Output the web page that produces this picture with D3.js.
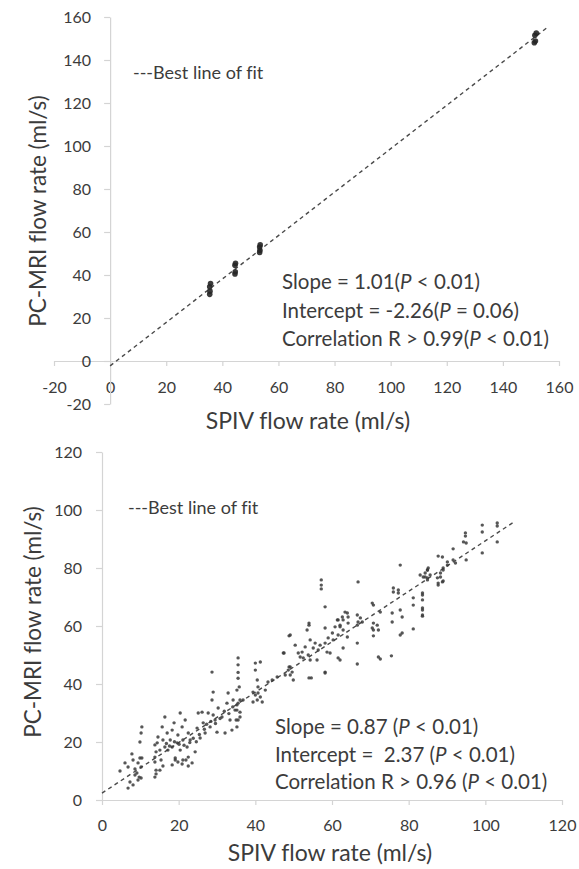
<!DOCTYPE html>
<html><head><meta charset="utf-8">
<script src="https://cdn.jsdelivr.net/npm/d3@7"></script>
<style>
body{margin:0;background:#fff}
svg{display:block}
text{font-family:Lato,"Open Sans",sans-serif;fill:#3c3c3c;font-variant-ligatures:none;font-feature-settings:"liga" 0}
</style>
</head><body><svg id="c" width="579" height="869"></svg>
<script>
// ---------- DATA ----------
const topXTicks = [-20,0,20,40,60,80,100,120,140,160];
const topYTicks = [-20,0,20,40,60,80,100,120,140,160];
const topPoints = [
  [35.5,31],[35.6,32.5],[35.5,34.5],[35.8,36],
  [44.5,40.5],[44.6,41.5],[44.5,44.5],[44.7,45.5],
  [53.3,50.5],[53.4,51.5],[53.3,53],[53.5,54],
  [151.2,148],[151.6,148.8],[151.4,151.5],[151.9,152.5]
];
const topFit = {slope:1.01, intercept:-2.26, from:0, to:156};
const topStats = [
  [["Slope = 1.01(",0],["P",1],[" < 0.01)",0]],
  [["Intercept = -2.26(",0],["P",1],[" = 0.06)",0]],
  [["Correlation R > 0.99(",0],["P",1],[" < 0.01)",0]]
];

const botXTicks = [0,20,40,60,80,100,120];
const botYTicks = [0,20,40,60,80,100,120];
const botPoints = [
  [4.7,10],[6.8,11.4],[7.8,15.9],[8.1,13.8],[8.6,10.7],[9.1,9.3],[9.4,12.8],[9.9,14.5],[10.2,11.4],
  [9.7,7.9],[9.4,6.9],[6.8,4.1],[7.3,6.2],[8.1,5.2],[10.2,7.6],[10.4,25.2],[10.2,23.1],[9.9,20],
  [6.0,12.8],[8.6,8.6],[10.4,14.5],
  [13.8,14.8],[14.1,10.3],[13.8,7.9],[14.4,19.7],[14.6,21.7],[15.1,17.2],[15.4,13.8],[15.7,25.2],
  [15.9,20.7],[16.4,28.6],[16.4,18.3],[17,23.1],[17.2,17.2],[17.8,20.7],[18.3,24.1],[18.3,18.3],
  [19.1,13.8],[18.8,26.6],[19.6,19.7],[19.8,22.4],[20.4,30],[20.4,17.2],[20.9,25.2],[21.1,20.7],
  [21.1,13.8],[21.7,27.6],[22.2,18.3],[22.5,23.1],[22.5,14.8],[23,20.7],[23.5,12.8],[24.3,16.6],
  [24.8,24.8],[25.1,30],[25.6,21.4],[26.1,30.3],[26.4,26.6],[26.9,23.1],[27.7,30],[28.2,25.2],
  [28.7,34.5],[29,37.2],[29,29.3],[29.5,27.6],[30,23.4],[30.3,31.7],[31.3,28.6],[32.1,23.1],
  [32.6,33.4],[32.9,36.9],[33.4,27.6],[33.9,24.1],[34.2,34.5],[34.7,31],[35.2,37.9],[35.5,33.4],
  [36,28.6],[28.7,44.1],
  [19.1,14.5],[19.8,13.1],[20.9,12.4],[21.9,13.8],[22.5,11.7],[18.3,12.1],
  [13.8,19],[14.1,16.6],[13.8,13.1],[14.1,9],[15.1,10.3],[15.9,11.7],
  [16.8,19.5],[17.6,18.6],[18.9,20.1],[20.1,19.2],[21.4,18.9],[22.9,19.8],[23.8,21.3],[24.6,20.1],
  [25.4,22.6],[26.7,24.4],[27.3,26.1],[28.4,27.1],[29.6,26.4],[30.8,28.1],[31.9,30.6],[33.1,29.8],
  [34.1,32.1],[35.2,32.8],[36,30.3],[35,27.6],[36.8,34.5],[36,34.5],[35.2,31],[35.5,27.6],[35.2,25.2],
  [35.5,49],[35.5,46.6],[35.5,44],[35.5,42],[35.8,39],
  [40,47.2],[41.3,47.6],[40,44.8],[40.5,41.4],[40.7,39],[39.4,37.2],[40,36.2],[40.7,36.9],[41.3,35.5],
  [40.5,34.5],[41.8,33.8],[39.4,33.8],[42.6,37.9],[43.3,40.7],[44.4,41.4],[45.7,42.4],[47.3,50.7],
  [47.8,43.1],[48.6,44.8],[49.1,45.9],[49.1,43.1],[49.6,44.1],[49.9,41.4],[49.1,56.9],[50.4,53.4],
  [51.2,50.7],[51.7,49.3],[52.2,51],[52.5,49],[53,52.8],[53.5,58.6],[53.8,50],[54,60.3],[54.3,48.3],
  [54.3,55.2],[54.6,42.1],[55.1,52.4],[55.6,54.1],[56.1,48.3],[56.4,51.7],[56.9,53.4],[58.2,54.1],
  [58.2,59.3],[58.7,51],[59,55.9],[59.5,50.7],[60.1,57.6],[58.2,44.1],[60.3,55.2],[60.8,59.7],
  [61.4,62.1],[61.6,56.9],[61.6,49],[62.1,60.3],[62.7,63.1],[62.9,58.6],[63.4,64.8],[64,56.2],[64.2,61],
  [47.5,50.7],[48.8,56.6],[48.8,45.9],[54,61],[58.2,43.8],[54,42.1],[58.2,66.6],[61.6,62.1],
  [62.1,48.3],[62.9,52.4],
  [57.2,75.9],[57.2,74.1],[57.2,72.8],
  [77.8,81],[66.8,75.2],[76,73.1],[76,71.7],[77.3,72.4],[77.3,71.4],[64,64.5],[64.2,63.1],[66.6,63.8],
  [67.4,62.8],[66.8,61.4],[67.9,61.4],[66.6,60.3],[70.5,67.9],[70.8,67.2],[72.6,64.8],[70.8,61],
  [70.5,59.3],[70.8,58.6],[71.8,60.3],[72.1,58.6],[70.8,56.6],[75.7,64.5],[75.7,61.4],[77.8,65.5],
  [78.3,63.1],[78.3,57.6],[77.8,56.9],[81.2,69.7],[81.2,67.2],[83.6,71.4],[83.6,69],[83.6,65.5],
  [83.6,63.4],[81.2,59],[66.6,54.1],[66.6,46.9],[72.1,49.3],[72.6,48.6],[75.5,49.7],[83,77.6],
  [83.8,76.9],[84.3,78.3],[84.9,79.3],[85.1,80],[84.9,76.6],[85.6,77.6],[87.5,76.6],[87.7,74.8],
  [88.3,78.3],[89,80],[90.1,81],[88.8,75.2],[62.9,62.1],[62.1,59.7],
  [99.2,94.8],[103.1,95.5],[103.1,94.5],[99.2,92.4],[94.8,92.1],[94.8,91],[94.3,89],[95,88.6],
  [103.1,89],[99.2,85.2],[91.6,86.6],[87.7,84.1],[88.8,83.8],[91.6,82.8],[92.2,81.7],[95,82.8],
  [90.1,82.1],[89,79.3],[88.3,76.9],[87.7,74.1],[89,75.5],[84.9,79.3],[84.3,76.9],[84.9,75.9],
  [83.6,70.7],[83.6,66.2],[83.6,63.8]
];
const botFit = {slope:0.87, intercept:2.37, from:0, to:107.5};
const botStats = [
  [["Slope = 0.87 (",0],["P",1],[" < 0.01)",0]],
  [["Intercept =  2.37 (",0],["P",1],[" < 0.01)",0]],
  [["Correlation R > 0.96 (",0],["P",1],[" < 0.01)",0]]
];
const legendLabel = "---Best line of fit";
const xTitle = "SPIV flow rate (ml/s)";
const yTitle = "PC-MRI flow rate (ml/s)";

// ---------- DRAW ----------
const svg = d3.select("#c");
const axisCol = "#d4d4d4";
const fmt = d => String(d);

function panel(cfg){
  const g = svg.append("g");
  const x = d3.scaleLinear().domain(cfg.xDom).range(cfg.xRange);
  const y = d3.scaleLinear().domain(cfg.yDom).range(cfg.yRange);

  const xa = g.append("g").attr("transform",`translate(0,${y(0)})`)
    .call(d3.axisBottom(x).tickValues(cfg.xTicks).tickFormat(fmt).tickSize(5).tickSizeOuter(0).tickPadding(cfg.xPad));
  const ya = g.append("g").attr("transform",`translate(${x(0)},0)`)
    .call(d3.axisLeft(y).tickValues(cfg.yTicks).tickFormat(fmt).tickSize(6).tickSizeOuter(0).tickPadding(cfg.yPad));
  [xa,ya].forEach(a=>{
    a.select(".domain").attr("stroke",axisCol).attr("stroke-width",1.2);
    a.selectAll(".tick line").attr("stroke",axisCol).attr("stroke-width",1.2);
    a.selectAll(".tick text").attr("font-size",16).attr("fill","#3c3c3c")
      .attr("font-family","Lato, 'Open Sans', sans-serif");
  });

  // fit line
  g.append("line")
    .attr("x1",x(cfg.fit.from)).attr("y1",y(cfg.fit.slope*cfg.fit.from+cfg.fit.intercept))
    .attr("x2",x(cfg.fit.to)).attr("y2",y(cfg.fit.slope*cfg.fit.to+cfg.fit.intercept))
    .attr("stroke","#4a4a4a").attr("stroke-width",1.4).attr("stroke-dasharray","4,3.5");

  // points
  g.append("g").selectAll("circle").data(cfg.points).join("circle")
    .attr("cx",d=>x(d[0])).attr("cy",d=>y(d[1])).attr("r",cfg.r)
    .attr("fill",cfg.dotCol).attr("opacity",cfg.dotOp);

  // legend
  g.append("text").attr("x",cfg.legend[0]).attr("y",cfg.legend[1])
    .attr("font-size",18).attr("dominant-baseline","middle").text(legendLabel);

  // stats
  const st = g.append("text").attr("font-size",20.5).attr("xml:space","preserve")
    .style("white-space","pre");
  cfg.stats.forEach((line,i)=>{
    line.forEach((seg,j)=>{
      const t = st.append("tspan").text(seg[0]).attr("font-style",seg[1]?"italic":"normal");
      if(j===0) t.attr("x",cfg.statPos[0]).attr("y",cfg.statPos[1]+i*cfg.statGap);
    });
  });

  // titles
  g.append("text").attr("x",cfg.xTitle[0]).attr("y",cfg.xTitle[1])
    .attr("text-anchor","middle").attr("font-size",23).text(xTitle);
  g.append("text").attr("transform",`translate(${cfg.yTitle[0]},${cfg.yTitle[1]}) rotate(-90)`)
    .attr("text-anchor","middle").attr("font-size",22.5).text(yTitle);
}

panel({
  xDom:[-20,160], xRange:[54,559], yDom:[-20,160], yRange:[404,17],
  xTicks:topXTicks, yTicks:topYTicks, xPad:16, yPad:13,
  fit:topFit, points:topPoints, r:2.8, dotCol:"#262626", dotOp:0.9,
  legend:[133,74], stats:topStats, statPos:[282,289], statGap:28.5,
  xTitle:[308,429], yTitle:[46,211]
});

panel({
  xDom:[0,120], xRange:[102,562], yDom:[0,120], yRange:[800,452],
  xTicks:botXTicks, yTicks:botYTicks, xPad:15, yPad:14,
  fit:botFit, points:botPoints, r:1.7, dotCol:"#3a3a3a", dotOp:0.85,
  legend:[128,509], stats:botStats, statPos:[275,734], statGap:27.5,
  xTitle:[330,861], yTitle:[41,622]
});
</script>
</body></html>
